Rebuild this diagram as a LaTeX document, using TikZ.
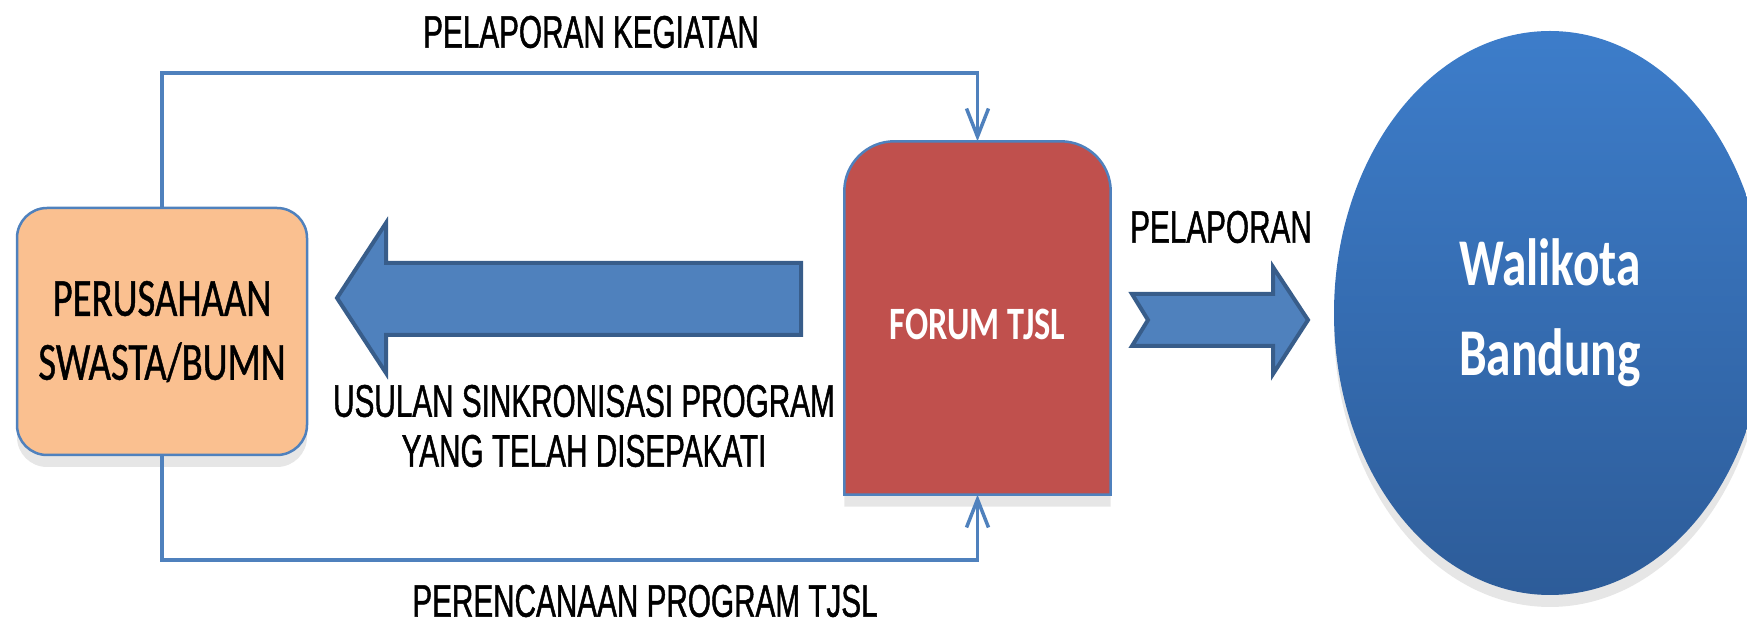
\documentclass[tikz,border=0pt]{standalone}
\usepackage{fontspec}
\newfontfamily\arialnarrow[FakeStretch=0.65,FakeBold=1]{Liberation Sans}
\newfontfamily\calplain[FakeStretch=0.72,FakeBold=0.8]{Carlito}
\newfontfamily\calnarrow[FakeStretch=0.74]{Carlito}
\usetikzlibrary{arrows.meta,shapes.geometric,shadows}
\definecolor{linkblue}{HTML}{4F81BD}
\definecolor{arrowedge}{HTML}{385D8A}
\definecolor{boxorange}{HTML}{FAC090}
\definecolor{forumred}{HTML}{C0504D}
\definecolor{walitop}{HTML}{3D7DCA}
\definecolor{walibot}{HTML}{2D5C99}
\begin{document}
\begin{tikzpicture}[x=0.1mm,y=-0.1mm,>={Straight Barb[length=2.8mm,width=2.2mm]},
		link/.style={linkblue,line width=0.35mm},
		blockarrow/.style={fill=linkblue,draw=arrowedge,line width=0.4mm,line join=miter},
		lbl/.style={font=\arialnarrow\fontsize{13}{14.2}\selectfont,align=center,inner sep=0pt},
		softshadow/.style={drop shadow={opacity=0.2,shadow xshift=0pt,shadow yshift=-1.2mm}}]
		\clip (0,0) rectangle (1747,624);
		% boxes
		\node[draw=linkblue,line width=0.25mm,fill=boxorange,rounded corners=3mm,softshadow,
			minimum width=29mm,minimum height=24.7mm,align=center,
			font=\calplain\fontsize{15.3}{18.2}\selectfont] (perus) at (162,331.5) {PERUSAHAAN\\SWASTA/BUMN};
		\node[minimum width=26.5mm,minimum height=35.2mm,inner sep=0pt] (forum) at (977.5,318) {};
		\draw[draw=linkblue,line width=0.25mm,fill=forumred,softshadow] (forum.south west) [rounded corners=5mm] -- (forum.north west) -- (forum.north east) [sharp corners] -- (forum.south east) -- cycle;
		\node[text=white,font=\calnarrow\bfseries\fontsize{13.2}{15}\selectfont] (forumtxt) at (977.5,324) {FORUM TJSL};
		\node[ellipse,minimum width=43.2mm,minimum height=56.4mm,inner sep=0pt,top color=walitop,bottom color=walibot,softshadow,
			align=center,text=white,font=\calnarrow\bfseries\fontsize{19}{25.5}\selectfont] (walikota) at (1550,313) {Walikota\\Bandung};
		% connectors
		\coordinate (toprail) at (0,73);
		\coordinate (botrail) at (0,560);
		\draw[link,->] (perus.north) -- (perus.north |- toprail) -| (forum.north);
		\draw[link,->] (perus.south) -- (perus.south |- botrail) -| (forum.south);
		\draw[blockarrow] (801,263) -- (386,263) -- (386,223) -- (337,298) -- (386,373) -- (386,335) -- (801,335) -- cycle;
		\draw[blockarrow] (1132,294) -- (1273,294) -- (1273,267) -- (1308,320) -- (1273,374) -- (1273,346) -- (1132,346) -- (1148,320) -- cycle;
		% labels
		\node[lbl] (kegiatan) at (591,32) {PELAPORAN KEGIATAN};
		\node[lbl] (usulan) at (584,426) {USULAN SINKRONISASI PROGRAM\\YANG TELAH DISEPAKATI};
		\node[lbl] (rencana) at (645,601) {PERENCANAAN PROGRAM TJSL};
		\node[lbl] (pelaporan) at (1221,227) {PELAPORAN};
\end{tikzpicture}
\end{document}
